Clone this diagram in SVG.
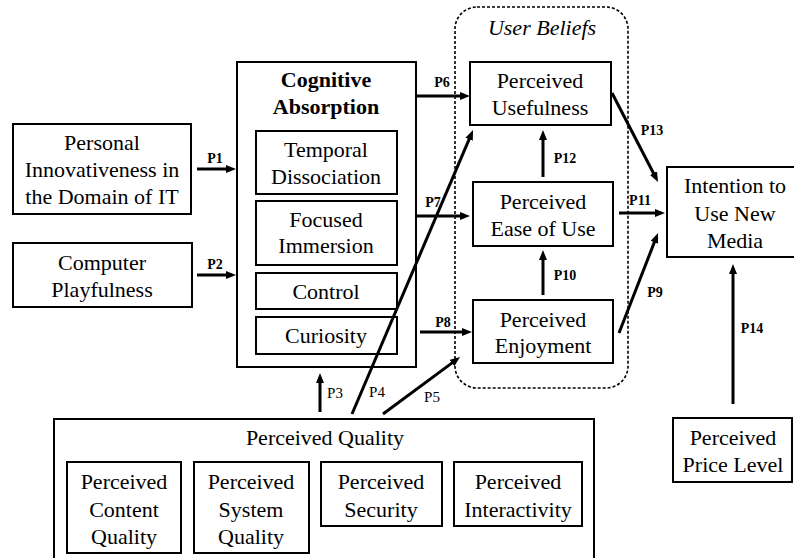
<svg xmlns="http://www.w3.org/2000/svg" width="794" height="558" viewBox="0 0 794 558" font-family="Liberation Serif, serif">
  <style>
    .box { fill: #fff; stroke: #000; stroke-width: 2; }
    .grp { fill: none; stroke: #000; stroke-width: 1.6; stroke-dasharray: 3 2; }
    text { fill: #000; text-anchor: middle; }
    .t { font-size: 22px; }
    .b { font-weight: bold; }
    .i { font-style: italic; }
    .lbl { font-size: 14px; font-weight: bold; }
    .lbl2 { font-size: 15px; }
    .arr { stroke: #000; stroke-width: 3; fill: none; marker-end: url(#head); }
  </style>
  <defs>
    <marker id="head" markerUnits="userSpaceOnUse" markerWidth="10" markerHeight="8" refX="1" refY="4" orient="auto" viewBox="0 0 10 8">
      <path d="M0,0 L10,4 L0,8 z" fill="#000"/>
    </marker>
  </defs>
  <rect width="794" height="558" fill="#fff"/>

  <!-- User beliefs grouping -->
  <g id="user-beliefs">
    <rect class="grp" x="455" y="7" width="173" height="381" rx="22"/>
    <text class="t i" x="542" y="35">User Beliefs</text>
  </g>

  <g id="personal-innovativeness">
    <rect class="box" x="13" y="124" width="178" height="90"/>
    <text class="t" x="102" y="150">Personal</text>
    <text class="t" x="102" y="177">Innovativeness in</text>
    <text class="t" x="102" y="204">the Domain of IT</text>
  </g>

  <g id="computer-playfulness">
    <rect class="box" x="13" y="243" width="179" height="64"/>
    <text class="t" x="102" y="270">Computer</text>
    <text class="t" x="102" y="297">Playfulness</text>
  </g>

  <g id="cognitive-absorption">
    <rect class="box" x="237" y="62" width="179" height="305"/>
    <text class="t b" x="326" y="87">Cognitive</text>
    <text class="t b" x="326" y="114">Absorption</text>
    <g id="temporal-dissociation">
      <rect class="box" x="256" y="131" width="141" height="63"/>
      <text class="t" x="326" y="157">Temporal</text>
      <text class="t" x="326" y="184">Dissociation</text>
    </g>
    <g id="focused-immersion">
      <rect class="box" x="256" y="201" width="141" height="64"/>
      <text class="t" x="326" y="227">Focused</text>
      <text class="t" x="326" y="253">Immersion</text>
    </g>
    <g id="control">
      <rect class="box" x="256" y="273" width="141" height="36"/>
      <text class="t" x="326" y="299">Control</text>
    </g>
    <g id="curiosity">
      <rect class="box" x="256" y="317" width="141" height="37"/>
      <text class="t" x="326" y="343">Curiosity</text>
    </g>
  </g>

  <g id="perceived-usefulness">
    <rect class="box" x="470" y="62" width="141" height="63"/>
    <text class="t" x="540" y="88">Perceived</text>
    <text class="t" x="540" y="115">Usefulness</text>
  </g>

  <g id="perceived-ease-of-use">
    <rect class="box" x="473" y="182" width="140" height="64"/>
    <text class="t" x="543" y="209">Perceived</text>
    <text class="t" x="543" y="236">Ease of Use</text>
  </g>

  <g id="perceived-enjoyment">
    <rect class="box" x="473" y="300" width="140" height="63"/>
    <text class="t" x="543" y="327">Perceived</text>
    <text class="t" x="543" y="353">Enjoyment</text>
  </g>

  <g id="intention">
    <rect class="box" x="667" y="167" width="140" height="90"/>
    <text class="t" x="735" y="193">Intention to</text>
    <text class="t" x="735" y="221">Use New</text>
    <text class="t" x="735" y="248">Media</text>
  </g>

  <g id="perceived-price-level">
    <rect class="box" x="673" y="418" width="119" height="64"/>
    <text class="t" x="733" y="445">Perceived</text>
    <text class="t" x="733" y="472">Price Level</text>
  </g>

  <g id="perceived-quality">
    <rect class="box" x="54" y="419" width="540" height="150"/>
    <text class="t" x="325" y="445">Perceived Quality</text>
    <g id="content-quality">
      <rect class="box" x="67" y="462" width="114" height="91"/>
      <text class="t" x="124" y="489">Perceived</text>
      <text class="t" x="124" y="517">Content</text>
      <text class="t" x="124" y="544">Quality</text>
    </g>
    <g id="system-quality">
      <rect class="box" x="194" y="462" width="115" height="91"/>
      <text class="t" x="251" y="489">Perceived</text>
      <text class="t" x="251" y="517">System</text>
      <text class="t" x="251" y="544">Quality</text>
    </g>
    <g id="security">
      <rect class="box" x="321" y="462" width="121" height="64"/>
      <text class="t" x="381" y="489">Perceived</text>
      <text class="t" x="381" y="517">Security</text>
    </g>
    <g id="interactivity">
      <rect class="box" x="454" y="462" width="128" height="64"/>
      <text class="t" x="518" y="489">Perceived</text>
      <text class="t" x="518" y="517">Interactivity</text>
    </g>
  </g>

  <!-- Hypothesised paths -->
  <g id="connectors">
    <line class="arr" x1="197" y1="169" x2="227" y2="169"/>
    <line class="arr" x1="197" y1="275" x2="227" y2="275"/>
    <line class="arr" x1="320" y1="412" x2="320" y2="382"/>
    <line class="arr" x1="352" y1="414" x2="469.5" y2="138.3"/>
    <line class="arr" x1="383" y1="414" x2="452.8" y2="362.4"/>
    <line class="arr" x1="417" y1="96" x2="461" y2="96"/>
    <line class="arr" x1="417" y1="216" x2="461" y2="216"/>
    <line class="arr" x1="420" y1="332" x2="463" y2="332"/>
    <line class="arr" x1="619" y1="333" x2="654.7" y2="241.4"/>
    <line class="arr" x1="543" y1="295" x2="543" y2="259"/>
    <line class="arr" x1="619" y1="213" x2="656" y2="213"/>
    <line class="arr" x1="543" y1="177" x2="543" y2="139"/>
    <line class="arr" x1="612" y1="93" x2="653.9" y2="174"/>
    <line class="arr" x1="733" y1="404" x2="733" y2="273"/>

    <text class="lbl" x="215" y="163">P1</text>
    <text class="lbl" x="215" y="269">P2</text>
    <text class="lbl2" x="335" y="398">P3</text>
    <text class="lbl2" x="377" y="397">P4</text>
    <text class="lbl2" x="432" y="402">P5</text>
    <text class="lbl" x="442" y="87">P6</text>
    <text class="lbl" x="433" y="207">P7</text>
    <text class="lbl" x="443" y="327">P8</text>
    <text class="lbl" x="655" y="297">P9</text>
    <text class="lbl" x="565" y="280">P10</text>
    <text class="lbl" x="640" y="205">P11</text>
    <text class="lbl" x="565" y="163">P12</text>
    <text class="lbl" x="652" y="135">P13</text>
    <text class="lbl" x="752" y="333">P14</text>
  </g>
</svg>
